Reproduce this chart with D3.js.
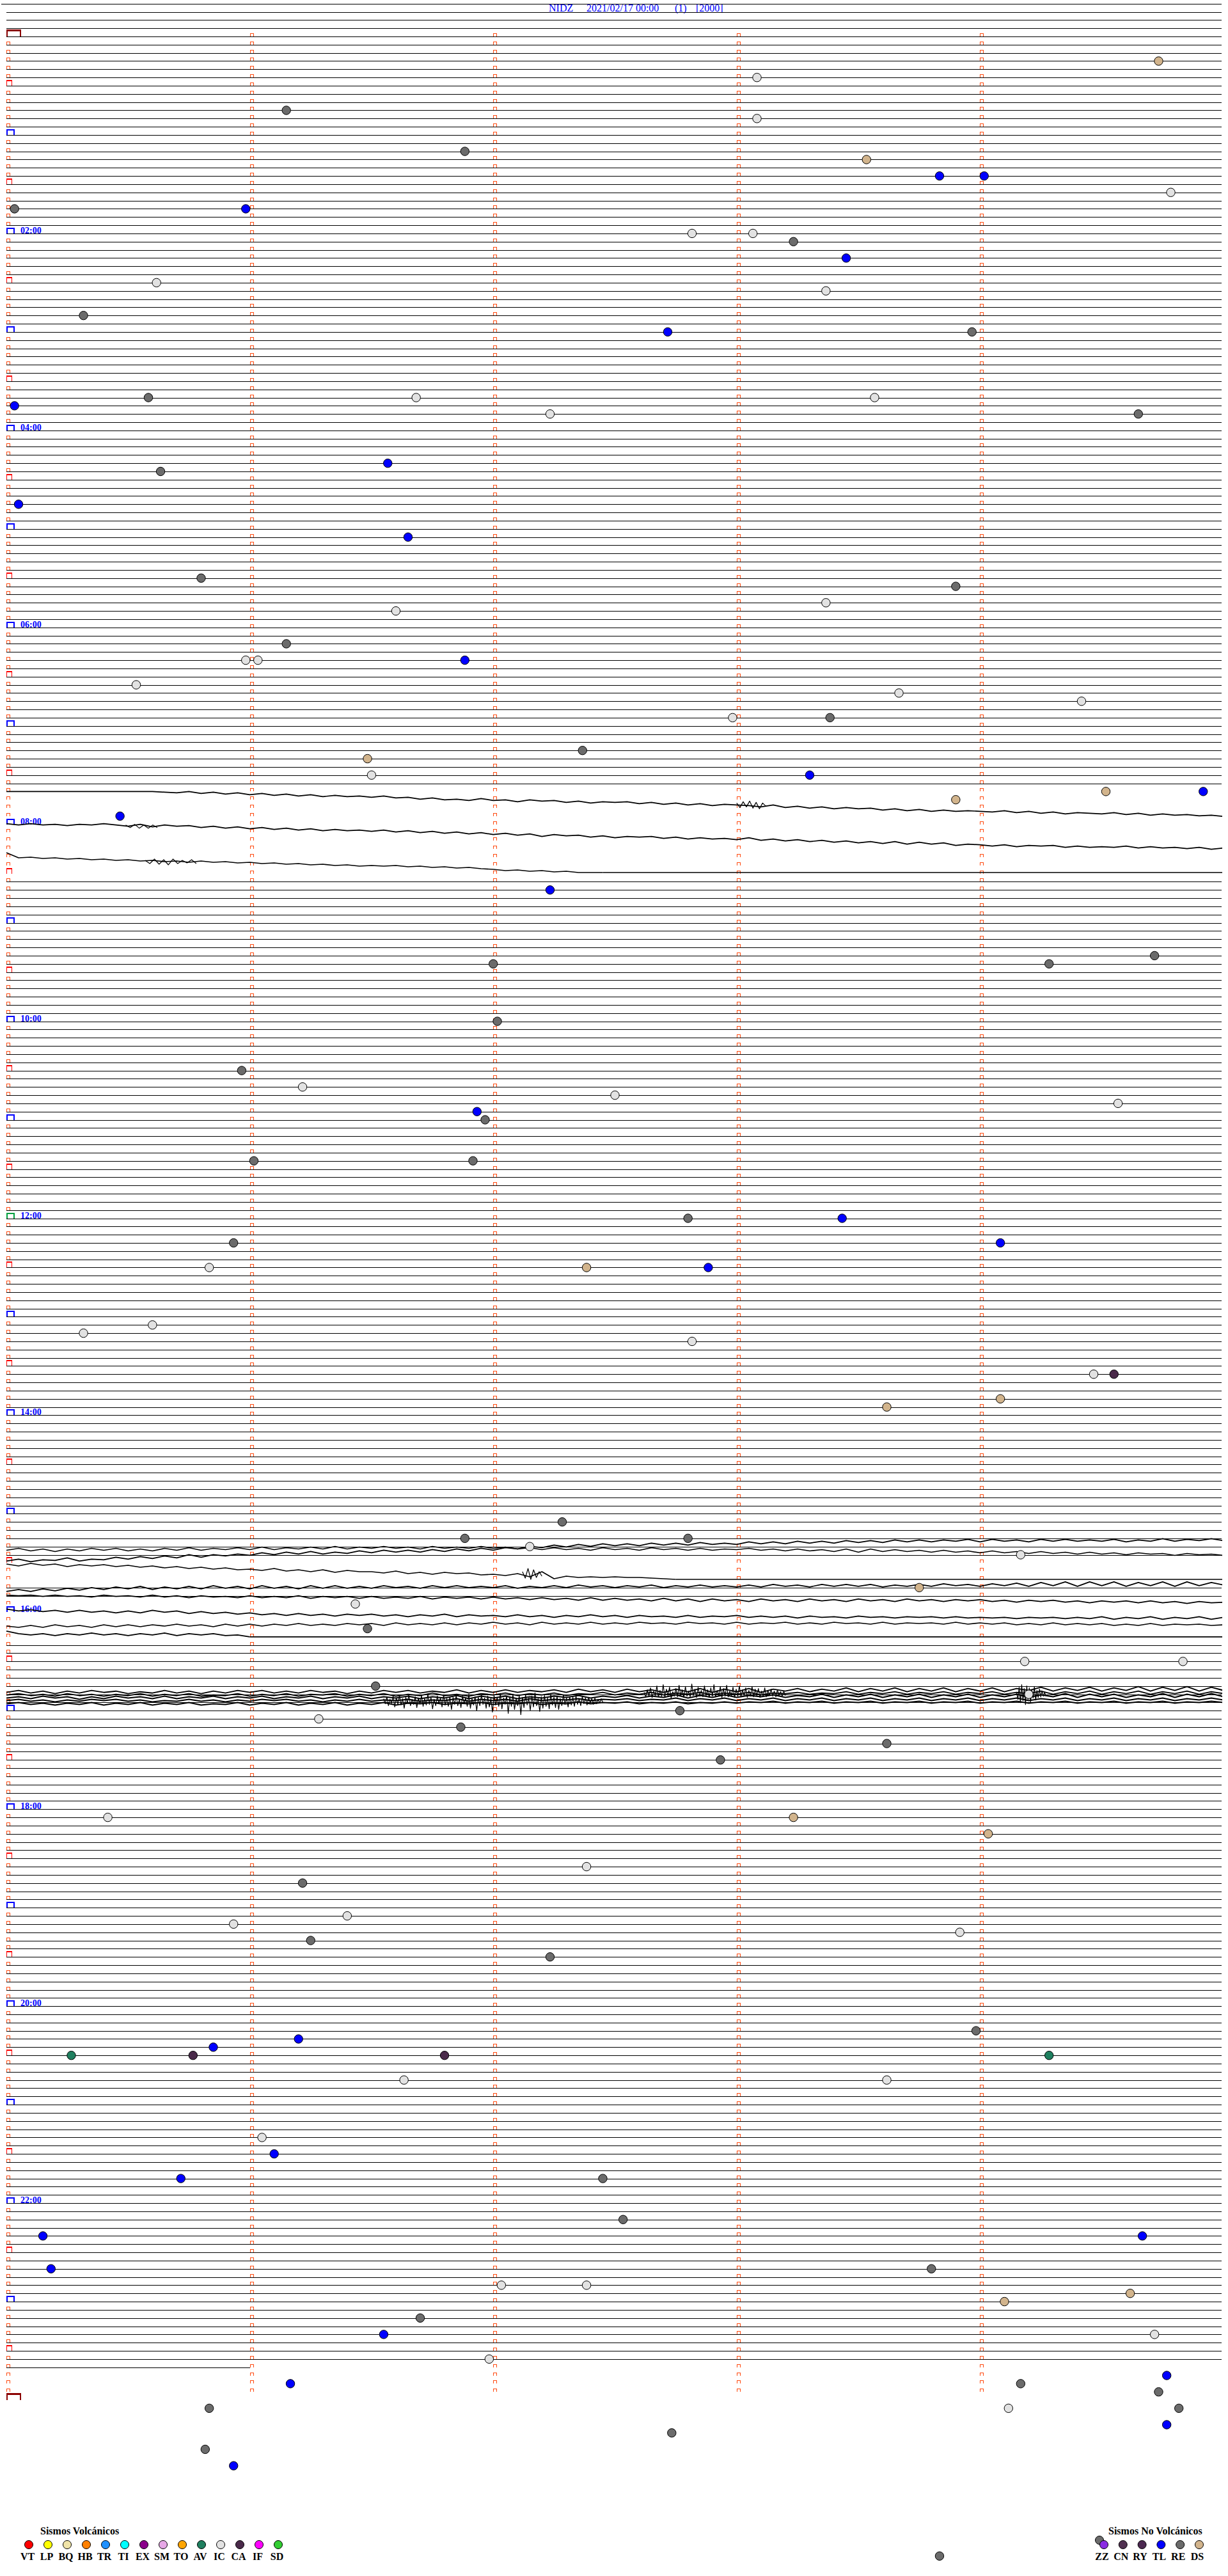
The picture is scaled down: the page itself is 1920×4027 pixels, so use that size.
<!DOCTYPE html>
<html><head><meta charset="utf-8">
<script src="https://cdn.jsdelivr.net/npm/d3@7"></script>
<style>body{margin:0;background:#fff}svg{display:block}</style>
</head><body>
<svg id="chart" width="1920" height="4027"></svg>
<script>
// ---------------- DATA ----------------
const station = "NIDZ", dateLabel = "2021/02/17 00:00", channelLabel = "(1)", scaleLabel = "[2000]";
const minutesPerLine = 5;
const firstLine = -4, lastFullLine = 283;
const partialLines = [["23:40", 0, 1]];
const silentLines = ["07:40","07:45","07:50","07:55","08:00","08:05","08:10","08:15","08:20","08:25","08:30",
  "15:30","15:35","15:40","15:55","16:00","16:05","16:10","16:15"];
const hourLabels = ["02:00","04:00","06:00","08:00","10:00","12:00","14:00","16:00","18:00","20:00","22:00"];

const events = [
 ["00:19:44","DS"],["00:28:05","IC"],["00:46:09","RE"],["00:53:05","IC"],["01:11:53","RE"],["01:18:32","DS"],
 ["01:28:50","TL"],["01:29:01","TL"],["01:39:47","IC"],["01:45:02","RE"],["01:45:59","TL"],["02:02:49","IC"],
 ["02:03:04","IC"],["02:08:14","RE"],["02:18:27","TL"],["02:30:37","IC"],["02:38:22","IC"],["02:50:19","RE"],
 ["03:02:43","TL"],["03:03:58","RE"],["03:40:35","RE"],["03:41:41","IC"],["03:43:34","IC"],["03:45:02","TL"],
 ["03:52:14","IC"],["03:54:39","RE"],["04:21:34","TL"],["04:25:38","RE"],["04:45:03","TL"],["05:06:39","TL"],
 ["05:30:48","RE"],["05:38:54","RE"],["05:48:22","IC"],["05:51:36","IC"],["06:11:09","RE"],["06:20:59","IC"],
 ["06:21:02","IC"],["06:21:53","TL"],["06:35:32","IC"],["06:43:40","IC"],["06:49:25","IC"],["06:57:59","IC"],
 ["06:58:23","RE"],["07:17:22","RE"],["07:21:29","DS"],["07:31:30","IC"],["07:33:18","TL"],["07:44:31","DS"],
 ["07:44:55","TL"],["07:48:54","DS"],["07:55:28","TL"],["08:42:14","TL"],["09:24:43","RE"],["09:27:00","RE"],
 ["09:29:17","RE"],["10:02:01","RE"],["10:30:58","RE"],["10:41:13","IC"],["10:47:30","IC"],["10:54:34","IC"],
 ["10:56:56","TL"],["11:01:58","RE"],["11:26:01","RE"],["11:26:55","RE"],["12:02:48","RE"],["12:03:26","TL"],
 ["12:15:56","RE"],["12:19:05","TL"],["12:30:50","IC"],["12:32:23","DS"],["12:32:53","TL"],["13:05:36","IC"],
 ["13:10:19","IC"],["13:17:49","IC"],["13:39:28","IC"],["13:39:33","CA"],["13:54:05","DS"],["13:58:37","DS"],
 ["15:07:17","RE"],["15:16:53","RE"],["15:17:48","RE"],["15:22:09","IC"],["15:29:10","IC"],["15:48:45","DS"],
 ["15:56:26","IC"],["16:11:29","RE"],["16:34:11","IC"],["16:34:50","IC"],["16:46:31","RE"],["16:54:12","IC"],
 ["17:02:46","RE"],["17:06:17","IC"],["17:11:52","RE"],["17:23:37","RE"],["17:32:56","RE"],["18:05:25","IC"],
 ["18:08:14","DS"],["18:19:02","DS"],["18:37:23","IC"],["18:46:13","RE"],["19:06:24","IC"],["19:10:56","IC"],
 ["19:18:55","IC"],["19:21:15","RE"],["19:32:14","RE"],["20:18:59","RE"],["20:21:12","TL"],["20:25:51","TL"],
 ["20:30:16","AV"],["20:30:46","CA"],["20:31:48","CA"],["20:34:17","AV"],["20:46:38","IC"],["20:48:37","IC"],
 ["21:21:03","IC"],["21:31:06","TL"],["21:45:43","TL"],["21:47:27","RE"],["22:12:32","RE"],["22:20:09","TL"],
 ["22:24:40","TL"],["22:40:11","TL"],["22:43:48","RE"],["22:52:02","IC"],["22:52:23","IC"],["22:59:37","DS"],
 ["23:04:06","DS"],["23:11:42","RE"],["23:21:33","TL"],["23:24:43","IC"],["23:36:59","IC"],["23:49:46","TL"],
 ["23:51:10","TL"],["23:54:10","RE"],["23:59:44","RE"],["24:05:50","RE"],["24:09:07","IC"],["24:09:49","RE"],
 ["24:19:46","TL"],["24:22:44","RE"],["24:30:49","RE"],["24:40:56","TL"],["25:38:50","RE"]
];

const volcanicCodes = ["VT","LP","BQ","HB","TR","TI","EX","SM","TO","AV","IC","CA","IF","SD"];
const nonVolcanicCodes = ["ZZ","CN","RY","TL","RE","DS"];

// trace amplitudes (display units, + = up), sampled evenly across each segment
const wave0740 = [0,0,0,0,0,0,0,0,0,0, 0,0,0,-1,-2,0,-3,-1,-4,-2, -5,-3,-6,-4,-7,-5,-8,-6,-8,-7,
 -9,-7,-10,-9,-12,-10,-13,-12,-14,-11, -14,-13,-16,-13,-15,-14,-17,-15,-18,-16, -17,-16,-19,-17,-20,-18,-21,-19,-22,-20,
 -21,-22,-24,-21,-25,-23,-26,-24,-27,-25, -27,-26,-29,-27,-30,-28,-31,-29,-31,-30, -31,-32,-30,-33,-31,-34,-32,-35,-33,-34,
 -35,-33,-36,-34,-37,-35,-37,-36,-38,-37, -39];
const wave0800 = [1,-1,1,-1,0,-2,0,-1,1,-1, -3,0,-4,-1,-3,-2,-5,-3,-6,-4, -7,-5,-8,-6,-9,-7,-10,-8,-10,-9,
 -11,-9,-12,-10,-13,-11,-14,-12,-15,-13, -16,-14,-17,-15,-19,-16,-18,-17,-20,-18, -21,-19,-20,-19,-22,-20,-23,-21,-23,-22,
 -24,-21,-25,-23,-26,-24,-27,-25,-28,-26, -29,-27,-30,-27,-31,-28,-31,-29,-33,-31, -32,-34,-32,-35,-33,-34,-33,-36,-34,-36,
 -35,-36,-34,-37,-35,-37,-36,-38,-36,-39, -37];
const wave0820 = [7,-1,0,-2,-1,-3,-2,-4,-3,-5, -4,-6,-5,-7,-6,-8,-6,-8,-7,-9, -8,-10,-9,-11,-10,-12,-11,-13,-12,-14,
 -13,-14,-13,-15,-14,-16,-15,-17,-16,-18, -19,-21,-20,-22,-21,-23,-22,-24,-24,-24];
const flat0820 = [-24,-24];
const wave1525 = [7,10,6,9,5,9,6,10,7,10, 6,9,6,10,7,11,7,10,8,11, 8,12,8,11,9,12,9,13,9,12, 10,13,10,12,9,13,10,12,10,13,
 10,12,9,11,8,11,8,10,7,11, 8,10,7,11,8,10,7,10,7,9, 8,10,7,9,6,9,6,8,5,9, 4,9,5,8,5,7,4,7,4,6,
 3,6,3,5,2,5,2,4,1,4, 1,3,0,3,1,2,-1,2,0,1,-1];
const wave1530 = [3,6,2,5,4,8,3,6,5,9, 6,10,7,11,8,13,9,13,11,14, 12,16,13,17,14,18,14,17,15,19, 16,20,17,20,17,21,18,22,19,23,
 20,24,22,26,24,28,25,29,26,30, 27,30,27,31,28,31,28,32,29,31, 29,33,30,33,30,34,31,34,31,35, 32,35,32,36,33,36,33,36,34,37,
 33,37,34,36,33,37,34,37,34,36, 34,37,33,36,34,38,34,37,35,38,35];
const wave1540 = [24,21,25,22,24,20,23,21,23,20, 22,19,21,18,20,17,19,16,18,15, 16,14,17,13,15,12,15,11,14,12,
 12,10,13,9,11,8,11,9,10,7, 8,6,9,4,12,1,5,3,4,3, 4,3,3,2,1,0];
const flat1540 = [0,0];
const wave1545 = [-6,-3,-6,-2,-5,-1,-4,0,-3,1, -2,2,-3,1,-2,2,-2,3,-1,2, -2,3,-1,2,-2,3,-1,3,-1,2, -1,3,0,2,-1,3,0,3,0,2,
 0,3,-1,2,0,3,0,4,1,3, 0,3,1,4,0,3,1,4,1,3, 1,4,1,5,2,4,1,5,2,5, 2,5,1,4,2,5,2,6,3,5,
 2,6,3,7,2,8,3,9,2,9, 3,9,2,8,3,9,2,9,3,8,4];
const wave1550 = [1,0,1,-1,1,-1,0,-2,1,-1, 0,-2,1,-2,0,-3,0,-2,-1,-3, 0,-3,-1,-3,0,-4,-1,-3,-1,-4, -1,-4,-2,-4,-1,-5,-2,-4,-2,-5,
 -2,-5,-3,-6,-3,-6,-4,-7,-3,-7, -4,-7,-5,-8,-4,-8,-5,-9,-5,-8, -6,-9,-5,-8,-6,-9,-5,-8,-6,-9, -5,-8,-6,-9,-5,-8,-6,-9,-6,-8,
 -6,-9,-7,-10,-7,-9,-7,-10,-8,-11, -8,-10,-8,-11,-8,-11,-9,-12,-9,-11,-10];
const wave1600 = [5,2,4,1,3,0,3,0,2,-1, 2,-1,3,0,2,-2,1,-2,0,-3, -1,-4,-2,-5,-2,-5,-3,-6,-3,-5, -3,-6,-4,-7,-4,-6,-3,-7,-4,-6,
 -5,-7,-4,-7,-5,-8,-5,-7,-4,-7, -5,-8,-5,-7,-6,-8,-5,-8,-6,-7, -5,-8,-6,-8,-6,-9,-6,-8,-7,-9, -6,-8,-7,-9,-7,-8,-7,-9,-7,-9,
 -8,-9,-8,-10,-8,-9,-8,-10,-8,-10, -7,-11,-8,-10,-7,-11,-8,-10,-7,-11,-8];
const wave1610 = [4,2,5,2,6,3,5,2,6,3, 6,3,6,4,7,4,6,3,7,4, 7,4,7,5,8,5,7,5,8,6, 8,5,9,6,8,6,9,6,9,7,
 10,7,9,6,10,7,9,7,10,7, 9,7,10,8,9,7,10,8,9,7, 10,7,9,8,10,7,9,7,10,8, 9,7,10,7,9,8,9,7,10,7,
 9,7,9,6,8,6,9,6,8,6, 8,5,7,5,8,5,7,6,7,5,6];
const wave1615 = [9,5,3,5,2,5,3,6,3,5, 2,5,3,6,2,5,3,5,2,3,0];
const flat1615 = [0,0];
const band1650a = [3,6,2,5,1,5,2,6,3,5, 1,4,2,6,2,5,1,5,2,6, 3,6,2,5,2,6,3,5,1,5, 2,6,3,6,2,5,3,7,2,6,
 3,7,3,6,4,7,3,8,4,7, 3,8,4,7,3,8,4,9,3,8, 4,9,3,8,5,9,4,8,5,10, 4,9,5,10,4,9,5,10,4,9,
 5,10,4,9,6,11,5,10,6,11, 5,10,6,12,5,11,6,12,5,11,6];
const band1650b = [-1,1,-2,0,-3,1,-2,0,-3,0, -2,1,-3,0,-2,1,-3,-1,-2,1, -3,0,-2,1,-3,0,-1,1,-3,0, -2,1,-3,0,-2,2,-2,0,-3,1,
 -1,2,-2,1,-1,2,-2,1,0,3, -1,2,0,3,-1,2,0,3,-1,2, 0,3,-1,2,1,3,0,2,1,4, 0,3,1,4,0,3,1,4,0,3,
 1,4,0,3,1,5,0,4,1,5, 0,4,1,5,0,4,1,5,0,4,1];
const band1655a = [7,9,6,10,7,9,5,9,6,10, 7,9,6,10,6,9,7,10,6,9, 7,10,6,9,7,10,6,9,7,10, 6,9,7,10,6,9,7,11,6,10,
 7,10,6,9,7,10,8,11,7,10, 8,11,7,10,8,12,7,11,8,12, 8,11,9,12,8,11,9,13,8,12, 9,13,8,12,9,13,8,12,9,13,
 8,12,9,13,8,12,9,14,8,13, 9,13,8,12,9,14,8,13,9,14,9];
const band1655b = [3,5,2,4,1,4,2,5,3,5, 2,4,1,3,2,5,2,4,1,4, 2,5,3,5,2,4,1,4,2,5, 2,4,3,5,2,4,3,6,2,5,
 3,5,2,6,3,5,4,6,3,5, 4,6,3,5,4,7,3,6,4,7, 3,6,4,7,3,6,4,7,3,6, 4,7,3,6,4,7,3,6,4,7,
 3,6,4,7,3,6,4,7,3,6, 4,7,3,6,4,7,3,6,4,7,4];
const band1655c = [-2,0,-3,-1,-4,-1,-3,0,-4,-1, -3,0,-4,-1,-3,0,-4,-2,-3,0, -4,-1,-3,0,-4,-1,-3,0,-4,-1, -3,0,-4,-1,-2,0,-3,-1,-2,0,
 -3,-1,-2,0,-3,-1,-2,1,-2,0, -1,1,-2,0,-1,1,-2,0,-1,1, -1,1,0,2,-1,1,0,2,-1,1, 0,2,-1,1,0,2,-1,1,0,2,
 -1,1,0,2,-1,1,0,2,-1,1, 0,2,-1,1,0,2,-1,1,0,2,0];
const burst1655 = [3,-5,6,-8,2,-4,7,-10,4,-6,8,-7,3,-12,5,-4,9,-8,2,-6, 6,-11,4,-5,8,-9,3,-7,10,-6,5,-13,2,-8,7,-5,4,-10,9,-7,
 3,-9,6,-14,5,-6,8,-8,2,-11,7,-5,4,-9,10,-12,3,-7,6,-16, 5,-8,9,-6,4,-12,7,-10,3,-18,8,-7,5,-9,11,-13,4,-6,7,-20,
 6,-9,10,-14,3,-8,8,-22,5,-11,9,-7,4,-15,7,-10,12,-8,3,-17, 6,-12,8,-9,4,-13,10,-7,5,-11,7,-14,3,-8,9,-6,4,-10,6,-7,
 5,-9,7,-6,3,-8,6,-5,4,-7,5,-4,3,-6,4,-5,2,-4,3,-3];
const burst1650a = [3,-4,7,-3,10,-5,5,-2,13,-4,6,-3,15,-5,8,-2,11,-6,4,-3, 9,-4,14,-2,7,-5,12,-3,5,-4,16,-2,8,-5,11,-3,6,-4,13,-2,
 7,-5,10,-3,15,-4,6,-2,12,-5,9,-3,14,-4,5,-2,11,-5,8,-3, 13,-4,7,-2,10,-5,6,-3,12,-4,8,-2,9,-5,5,-3,10,-4,6,-2,
 8,-3,5,-4,7,-2,4,-3,5,-2];
const burst1650b = [3,-8,11,-13,15,-10,9,-16,13,-8,10,-12,7,-6,12,-9,6,-5,8,-4,5,-3,3,-2];
const burst0740 = [3,-4,5,-3,6,-5,4,-6,3,-2];
const burst0820 = [2,-3,4,-4,3,-5,4,-3,2,-2,3,-3];
const burst0800 = [2,-2,3,-3,2,-3,2,-2];
const burst1540 = [4,-6,9,-8,7,-5,4,-3];

// [line start, from minute, to minute, samples]
const traceSegments = [
 ["07:40",0,5,wave0740],["08:00",0,5,wave0800],["08:20",0,2.45,wave0820],["08:20",2.45,5,flat0820],
 ["15:25",0,5,wave1525],["15:30",0,5,wave1530],["15:40",0,2.75,wave1540],["15:40",2.75,5,flat1540],
 ["15:45",0,5,wave1545],["15:50",0,5,wave1550],["16:00",0,5,wave1600],["16:10",0,5,wave1610],
 ["16:15",0,1,wave1615],["16:15",1,5,flat1615]
];
const bandSegments = [
 ["16:50",0,5,band1650a],["16:50",0,5,band1650b],["16:55",0,5,band1655a],["16:55",0,5,band1655b],["16:55",0,5,band1655c]
];
// [line start, from minute, to minute, local level, samples]
const burstSegments = [
 ["16:55",1.55,2.45,3,burst1655],["16:50",2.62,3.2,0,burst1650a],["16:50",4.15,4.27,0,burst1650b],
 ["07:40",3.0,3.12,-21,burst0740],["08:20",0.57,0.78,-7,burst0820],["08:00",0.49,0.62,-3,burst0800],
 ["15:40",2.12,2.2,8,burst1540]
];

// ---------------- STYLES ----------------
const typeColor = {VT:"#ff0000",LP:"#ffff00",BQ:"#f0e4a8",HB:"#ff8000",TR:"#1e90ff",TI:"#00ffff",EX:"#8b008b",
 SM:"#e6a8e6",TO:"#ffa500",AV:"#1f7f5f",IC:"#e2e2e2",CA:"#4a2a4a",IF:"#ff00ff",SD:"#32cd32",
 ZZ:"#8a2be2",CN:"#503050",RY:"#4b2850",TL:"#0000ff",RE:"#6b6b6b",DS:"#d2b48c"};
const plotRight = 1910;

// ---------------- DRAW ----------------
const svg = d3.select("#chart");
const x = d3.scaleLinear().domain([0, minutesPerLine]).range([10, 1913]);
const y = d3.scaleLinear().domain([0, 288]).range([57, 3752]);
const amp = d3.scaleLinear().domain([-100, 100]).range([100, -100]);
const toSec = s => { const p = s.split(":").map(Number); return p[0]*3600 + p[1]*60 + (p[2]||0); };
const lineOf = s => Math.floor(toSec(s) / (minutesPerLine*60));
const minOf = s => (toSec(s) % (minutesPerLine*60)) / 60;
const yb = i => Math.round(y(i)) + 0.5;

svg.append("rect").attr("width",1920).attr("height",4027).attr("fill","#fff");
svg.append("defs").append("clipPath").attr("id","plotclip").append("rect")
  .attr("x",0).attr("y",0).attr("width",plotRight+1).attr("height",4027);

// title
const title = svg.append("g").attr("font-family","'Liberation Serif','Times New Roman',serif")
  .attr("font-size",16).attr("fill","#0000ff");
[[station,858],[dateLabel,917],[channelLabel,1055],[scaleLabel,1088]].forEach(([t,px]) =>
  title.append("text").attr("x",px).attr("y",18).text(t));

// baselines
const silent = new Set(silentLines.map(lineOf));
const base = svg.append("g").attr("stroke","#000").attr("stroke-width",1).attr("shape-rendering","crispEdges");
d3.range(firstLine, lastFullLine+1).filter(i => !silent.has(i)).forEach(i => {
  base.append("line").attr("x1", i===firstLine ? 2 : x(0)).attr("x2", plotRight).attr("y1", yb(i)).attr("y2", yb(i));
});
partialLines.forEach(([t,a,b]) => {
  const i = lineOf(t);
  base.append("line").attr("x1", x(a)).attr("x2", x(b)).attr("y1", yb(i)).attr("y2", yb(i));
});

// minute markers
const mk = svg.append("g").attr("fill","none").attr("shape-rendering","crispEdges");
const box = (px, py, w, h) => `M${px},${py}V${py-h}H${px+w}V${py}`;
d3.range(0, 289).forEach(i => {
  const py = Math.round(y(i));
  d3.range(0, 5).forEach(c => {
    const px = Math.round(x(c)) + 0.5;
    if (c === 0 && (i === 0 || i === 288)) {
      mk.append("path").attr("d", box(px, py, 21, 10)).attr("stroke","#8b0000").attr("stroke-width",2);
      mk.append("line").attr("x1",px).attr("x2",px+21).attr("y1",py-10).attr("y2",py-10).attr("stroke","#8b0000").attr("stroke-width",3);
    } else if (i === 288) {
      return;
    } else if (c === 0 && i === 144) {
      mk.append("path").attr("d", box(px, py, 11, 8)).attr("stroke","#00a040").attr("stroke-width",2);
    } else if (c === 0 && i % 12 === 0) {
      mk.append("path").attr("d", box(px, py, 11, 8)).attr("stroke","#0000ff").attr("stroke-width",2);
    } else if (c === 0 && i % 6 === 0) {
      mk.append("path").attr("d", box(px, py, 8, 8)).attr("stroke","#ff0000").attr("stroke-width",1.2);
    } else {
      mk.append("path").attr("d", box(px, py, 5, 5)).attr("stroke","#ff4a10").attr("stroke-width",1);
    }
  });
});

// hour labels
svg.append("g").selectAll("text").data(hourLabels).join("text")
  .attr("x",32).attr("y", d => Math.round(y(lineOf(d))) - 0.5)
  .attr("font-family","'Liberation Serif','Times New Roman',serif").attr("font-weight","bold")
  .attr("font-size",14).attr("fill","#0000ff").text(d => d);

// traces
const tr = svg.append("g").attr("clip-path","url(#plotclip)").attr("fill","none")
  .attr("stroke","#000").attr("stroke-width",1.7).attr("stroke-linejoin","round");
const drawSeg = (t,a,b,lvl,vals,w) => {
  const i = lineOf(t), n = vals.length;
  const gen = d3.line().x((v,k) => x(a + (b-a)*k/(n-1))).y(v => y(i) + amp(lvl + v));
  tr.append("path").attr("d", gen(vals)).attr("stroke-width", w);
};
traceSegments.forEach(([t,a,b,vals]) => drawSeg(t,a,b,0,vals,1.7));
bandSegments.forEach(([t,a,b,vals]) => drawSeg(t,a,b,0,vals,2));
burstSegments.forEach(([t,a,b,lvl,vals]) => drawSeg(t,a,b,lvl,vals,1.2));

// events
svg.append("g").selectAll("circle").data(events).join("circle")
  .attr("cx", d => x(minOf(d[0]))).attr("cy", d => y(lineOf(d[0])))
  .attr("r", 6.7).attr("fill", d => typeColor[d[1]]).attr("stroke","#000").attr("stroke-width",1);

// legends
const lg = svg.append("g").attr("font-family","'Liberation Serif','Times New Roman',serif").attr("font-weight","bold");
lg.append("text").attr("x",63).attr("y",3962).attr("font-size",16).text("Sismos Volcánicos");
volcanicCodes.forEach((c,k) => {
  const cx = 45 + 30*k;
  lg.append("circle").attr("cx",cx).attr("cy",3978).attr("r",6.5).attr("fill",typeColor[c]).attr("stroke","#000");
  lg.append("text").attr("x",cx-2).attr("y",4002).attr("text-anchor","middle").attr("font-size",16).text(c);
});
lg.append("text").attr("x",1733).attr("y",3962).attr("font-size",16).text("Sismos No Volcánicos");
nonVolcanicCodes.forEach((c,k) => {
  const cx = 1726 + 29.8*k;
  if (c === "ZZ") lg.append("circle").attr("cx",cx-7).attr("cy",3971).attr("r",6.5).attr("fill",typeColor.RE).attr("stroke","#000");
  lg.append("circle").attr("cx",cx).attr("cy",3978).attr("r",6.5).attr("fill",typeColor[c]).attr("stroke","#000");
  lg.append("text").attr("x",cx-3).attr("y",4002).attr("text-anchor","middle").attr("font-size",16).text(c);
});
</script></body></html>
